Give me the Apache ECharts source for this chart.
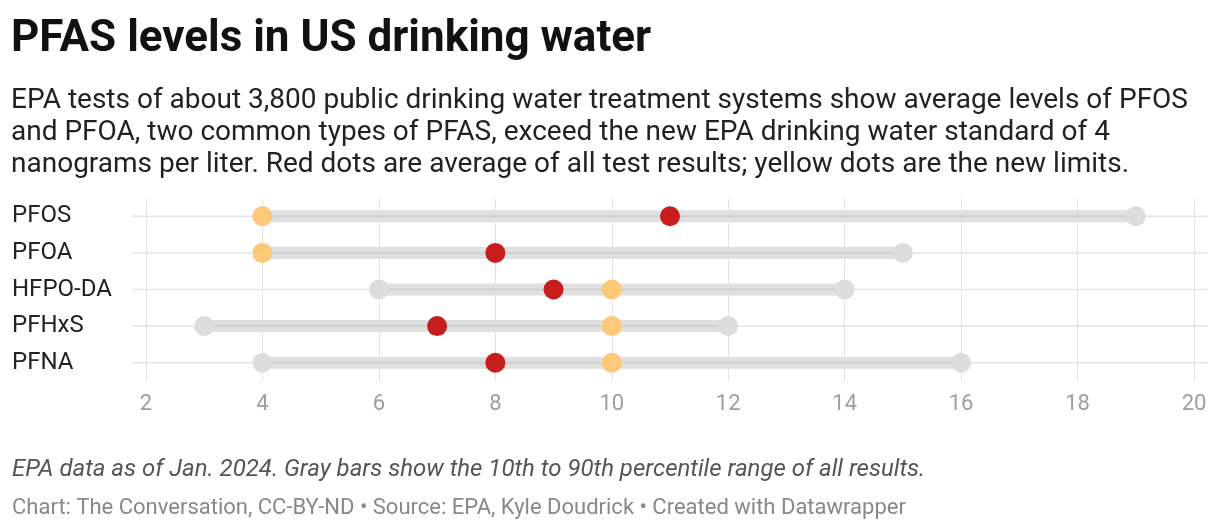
<!DOCTYPE html>
<html><head><meta charset="utf-8">
<script src="https://cdn.jsdelivr.net/npm/echarts@6/dist/echarts.min.js"></script>
<style>html,body{margin:0;padding:0;background:#fff}#c{width:1220px;height:528px}</style>
</head><body><div id="c"></div>
<script>
const categories = ['PFOS', 'PFOA', 'HFPO-DA', 'PFHxS', 'PFNA'];
const p10 = [4, 4, 6, 3, 4];
const p90 = [19, 15, 14, 12, 16];
const averages = [11, 8, 9, 7, 8];
const limits = [4, 4, 10, 10, 10];
const xTicks = [2, 4, 6, 8, 10, 12, 14, 16, 18, 20];

const FONT = 'Roboto, "Noto Sans", sans-serif';
const chart = echarts.init(document.getElementById('c'), null, {renderer: 'canvas'});

const rangeData = categories.map((c, i) => [i, p10[i], p90[i]]);

chart.setOption({
  backgroundColor: '#fff',
  animation: false,
  textStyle: {fontFamily: FONT},
  title: [
    {text: 'PFAS levels in US drinking water', left: 6, top: 13,
     textStyle: {fontFamily: FONT, fontSize: 44, fontWeight: 'bold', color: '#111'}},
    {text: 'EPA tests of about 3,800 public drinking water treatment systems show average levels of PFOS\nand PFOA, two common types of PFAS, exceed the new EPA drinking water standard of 4\nnanograms per liter. Red dots are average of all test results; yellow dots are the new limits.',
     left: 6, top: 80,
     textStyle: {fontFamily: FONT, fontSize: 28, fontWeight: 'normal', color: '#222', lineHeight: 32}},
    {text: 'EPA data as of Jan. 2024. Gray bars show the 10th to 90th percentile range of all results.',
     left: 7, top: 453,
     textStyle: {fontFamily: FONT, fontSize: 24, fontStyle: 'italic', fontWeight: 'normal', color: '#555'}},
    {text: 'Chart: The Conversation, CC-BY-ND \u2022 Source: EPA, Kyle Doudrick \u2022 Created with Datawrapper',
     left: 7, top: 492,
     textStyle: {fontFamily: FONT, fontSize: 22, fontWeight: 'normal', color: '#888'}}
  ],
  grid: {left: 146, right: 26, top: 198, bottom: 147, containLabel: false},
  xAxis: {
    type: 'value', min: xTicks[0], max: xTicks[xTicks.length - 1], interval: 2,
    axisLine: {show: false}, axisTick: {show: false},
    splitLine: {show: true, lineStyle: {color: '#e3e3e3', width: 1}},
    axisLabel: {color: '#9e9e9e', fontSize: 22, fontFamily: FONT, margin: 12}
  },
  yAxis: {
    type: 'category', data: categories, inverse: true,
    axisLine: {show: false}, axisTick: {show: false}, splitLine: {show: false},
    axisLabel: {color: '#222', fontSize: 24, fontFamily: FONT, align: 'left', margin: 134}
  },
  series: [
    {
      type: 'custom', z: 1,
      renderItem: function (params, api) {
        const cs = params.coordSys;
        const y = api.coord([0, api.value(0)])[1];
        const x1 = api.coord([api.value(1), api.value(0)])[0];
        const x2 = api.coord([api.value(2), api.value(0)])[0];
        return {
          type: 'group',
          children: [
            {type: 'line', shape: {x1: cs.x - 14, y1: y, x2: cs.x + cs.width + 14, y2: y},
             style: {stroke: '#e5e5e5', lineWidth: 1.5}},
            {type: 'rect', shape: {x: x1, y: y - 6, width: x2 - x1, height: 12},
             style: {fill: '#e0e0e0'}},
            {type: 'line', shape: {x1: x1, y1: y, x2: x2, y2: y},
             style: {stroke: '#d0d0d0', lineWidth: 2}},
            {type: 'circle', shape: {cx: x1, cy: y, r: 10}, style: {fill: '#dddddd'}},
            {type: 'circle', shape: {cx: x2, cy: y, r: 10}, style: {fill: '#dddddd'}}
          ]
        };
      },
      encode: {x: [1, 2], y: 0},
      data: rangeData
    },
    {
      type: 'scatter', z: 3, symbol: 'circle', symbolSize: 20,
      itemStyle: {color: '#c71e1d', opacity: 1},
      data: averages.map((v, i) => [v, categories[i]])
    },
    {
      type: 'scatter', z: 4, symbol: 'circle', symbolSize: 20,
      itemStyle: {color: '#fdc978', opacity: 1},
      data: limits.map((v, i) => [v, categories[i]])
    }
  ]
});
</script></body></html>
